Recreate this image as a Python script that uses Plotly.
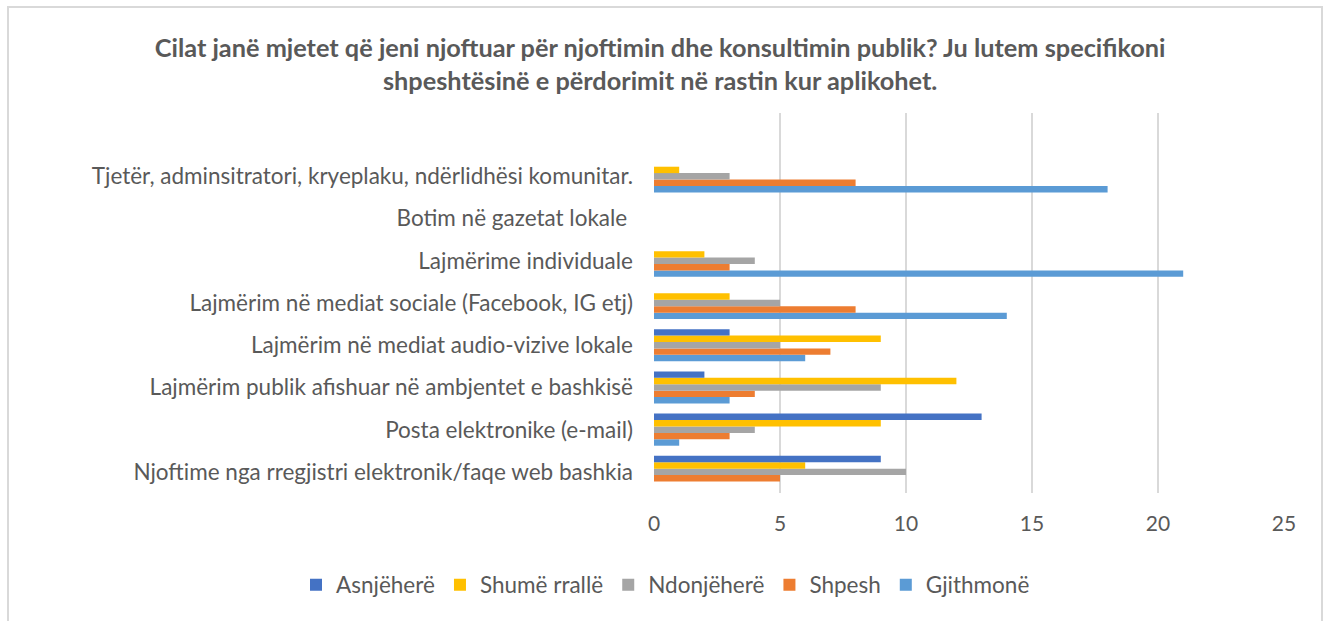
import plotly.graph_objects as go

categories = [
    "Njoftime nga rregjistri elektronik/faqe web bashkia",
    "Posta elektronike (e-mail)",
    "Lajmërim publik afishuar në ambjentet e bashkisë",
    "Lajmërim në mediat audio-vizive lokale",
    "Lajmërim në mediat sociale (Facebook, IG etj)",
    "Lajmërime individuale",
    "Botim në gazetat lokale ",
    "Tjetër, adminsitratori, kryeplaku, ndërlidhësi komunitar.",
]

asnjehere = [9, 13, 2, 3, 0, 0, 0, 0]
shume_ralle = [6, 9, 12, 9, 3, 2, 0, 1]
ndonjehere = [10, 4, 9, 5, 5, 4, 0, 3]
shpesh = [5, 3, 4, 7, 8, 3, 0, 8]
gjithmone = [0, 1, 3, 6, 14, 21, 0, 18]

x_ticks = [0, 5, 10, 15, 20, 25]

# plotly stacks horizontal groups bottom-up, so add the last series first
series = [
    ("Gjithmonë", gjithmone, "#5B9BD5"),
    ("Shpesh", shpesh, "#ED7D31"),
    ("Ndonjëherë", ndonjehere, "#A5A5A5"),
    ("Shumë rrallë", shume_ralle, "#FFC000"),
    ("Asnjëherë", asnjehere, "#4472C4"),
]

FONT = "Lato"
GREY = "#595959"

fig = go.Figure()
for name, vals, color in series:
    fig.add_trace(go.Bar(
        y=categories, x=vals, name=name, orientation="h",
        marker=dict(color=color, line=dict(width=0)),
    ))

W, H = 1323, 621
L, R, T, B = 654, 39, 113, 128
pw, ph = W - L - R, H - T - B

fig.update_layout(
    width=W, height=H,
    margin=dict(l=L, r=R, t=T, b=B),
    paper_bgcolor="white", plot_bgcolor="white",
    barmode="group", bargap=0.24, bargroupgap=0,
    font=dict(family=FONT, color=GREY),
    title=dict(
        text="<b>Cilat janë mjetet që jeni njoftuar për njoftimin dhe konsultimin publik? Ju lutem specifikoni"
             "<br>shpeshtësinë e përdorimit në rastin kur aplikohet.</b>",
        x=0.499, xanchor="center", y=1 - 57 / H, yanchor="middle",
        font=dict(size=25.3, color=GREY, family=FONT),
    ),
    # legend left of the plot area in paper units so it may span wider than the plot
    legend=dict(
        orientation="h", traceorder="reversed",
        x=(296 - L) / pw, xanchor="left",
        y=(H - B - 585) / ph, yanchor="middle",
        font=dict(size=22.5, color=GREY), itemwidth=30,
    ),
    showlegend=True,
)

fig.update_xaxes(
    range=[0, 25], tickvals=x_ticks, showgrid=True,
    gridcolor="#D9D9D9", gridwidth=1.5, zeroline=False,
    showline=False, ticks="", ticklabelstandoff=16,
    tickfont=dict(size=21, color=GREY),
)
fig.update_yaxes(
    type="category", range=[-0.5, 8.5], showgrid=False,
    showline=False, ticks="", ticklabelstandoff=20,
    tickfont=dict(size=22.5, color=GREY),
)

# chart border like the Excel chart area
fig.add_shape(
    type="rect", xref="paper", yref="paper",
    x0=(8 - L) / pw, x1=(1322 - L) / pw,
    y0=(H - B - 640) / ph, y1=(H - B - 7) / ph,
    line=dict(color="#D9D9D9", width=2), fillcolor="rgba(0,0,0,0)",
    layer="below",
)

fig.write_html("out.html", config={"displayModeBar": False},
               post_script="document.body.style.margin='0';")
